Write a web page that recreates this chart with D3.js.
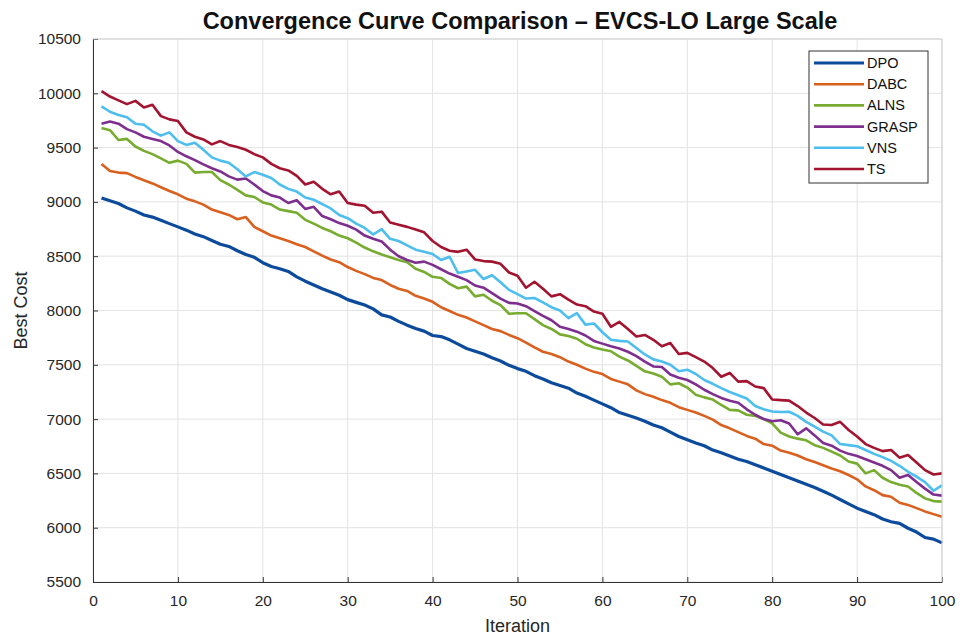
<!DOCTYPE html>
<html>
<head>
<meta charset="utf-8">
<script src="https://cdn.jsdelivr.net/npm/d3@7"></script>
<style>
    body { margin: 0; background: #fff; }
    svg { font-family: "Liberation Sans", Arial, sans-serif; }
</style>
</head>
<body>
<div class="conv-chart"></div>
<script>
// iteration index (x axis)
const iterations = Array.from({length: 100}, (_, i) => i + 1);

const xTicks = [0, 10, 20, 30, 40, 50, 60, 70, 80, 90, 100];
const yTicks = [5500, 6000, 6500, 7000, 7500, 8000, 8500, 9000, 9500, 10000, 10500];

const seriesNames = ["DPO", "DABC", "ALNS", "GRASP", "VNS", "TS"];
const seriesColors = ["#0c4a9c", "#d9601f", "#77ac30", "#7e2f8e", "#4dbeee", "#a2142f"];

const dpo = [9035, 9010, 8985, 8945, 8915, 8880, 8860, 8830, 8800, 8770,
    8740, 8705, 8680, 8645, 8610, 8590, 8550, 8515, 8490, 8440,
    8405, 8385, 8360, 8310, 8270, 8235, 8200, 8170, 8140, 8100,
    8075, 8050, 8015, 7960, 7940, 7900, 7865, 7835, 7810, 7770,
    7760, 7730, 7690, 7650, 7625, 7600, 7565, 7535, 7495, 7465,
    7440, 7400, 7370, 7335, 7310, 7285, 7240, 7210, 7175, 7140,
    7105, 7060, 7035, 7010, 6980, 6945, 6920, 6880, 6840, 6810,
    6780, 6755, 6715, 6690, 6660, 6630, 6610, 6580, 6550, 6520,
    6490, 6460, 6430, 6400, 6370, 6335, 6300, 6260, 6220, 6180,
    6150, 6120, 6080, 6055, 6040, 5995, 5960, 5910, 5895, 5860];

const dabc = [9350, 9285, 9270, 9265, 9230, 9200, 9170, 9135, 9100, 9070,
    9030, 9005, 8975, 8930, 8905, 8880, 8840, 8860, 8770, 8730,
    8690, 8665, 8640, 8610, 8585, 8545, 8505, 8470, 8445, 8400,
    8365, 8335, 8300, 8280, 8235, 8200, 8180, 8135, 8110, 8080,
    8030, 7995, 7960, 7935, 7900, 7865, 7830, 7810, 7775, 7745,
    7705, 7660, 7620, 7600, 7570, 7530, 7500, 7465, 7435, 7415,
    7370, 7345, 7320, 7265, 7230, 7205, 7175, 7150, 7110, 7085,
    7060, 7030, 6995, 6945, 6915, 6880, 6845, 6820, 6770, 6755,
    6710, 6690, 6665, 6630, 6605, 6575, 6545, 6520, 6485, 6445,
    6380, 6345, 6300, 6285, 6230, 6210, 6180, 6150, 6125, 6100];

const alns = [9680, 9660, 9570, 9580, 9510, 9470, 9440, 9400, 9360, 9380,
    9350, 9270, 9275, 9275, 9200, 9160, 9110, 9060, 9045, 8995,
    8975, 8930, 8915, 8900, 8835, 8800, 8760, 8730, 8690, 8665,
    8625, 8580, 8545, 8515, 8490, 8465, 8445, 8385, 8355, 8310,
    8300, 8245, 8205, 8220, 8130, 8145, 8090, 8050, 7970, 7975,
    7975, 7920, 7865, 7830, 7780, 7765, 7740, 7690, 7660, 7640,
    7625, 7575, 7540, 7490, 7440, 7420, 7390, 7320, 7330, 7290,
    7225, 7200, 7180, 7130, 7085, 7080, 7040, 7030, 7000, 6960,
    6875, 6840, 6820, 6805, 6760, 6735, 6700, 6665, 6610, 6590,
    6500, 6530, 6460, 6420, 6395, 6380, 6320, 6270, 6245, 6240];

const grasp = [9720, 9740, 9720, 9670, 9640, 9600, 9580, 9560, 9520, 9460,
    9420, 9385, 9345, 9310, 9280, 9235, 9205, 9215, 9160, 9100,
    9060, 9040, 8990, 9015, 8935, 8955, 8870, 8840, 8805, 8780,
    8745, 8690, 8660, 8635, 8560, 8500, 8465, 8440, 8450, 8420,
    8380, 8340, 8310, 8280, 8230, 8210, 8160, 8110, 8070, 8065,
    8040, 7995, 7950, 7910, 7850, 7830, 7805, 7770, 7720, 7695,
    7670, 7650, 7620, 7580, 7530, 7485, 7480, 7410, 7380, 7360,
    7320, 7270, 7230, 7195, 7170, 7150, 7090, 7040, 7000, 6980,
    6990, 6960, 6860, 6915, 6850, 6780, 6755, 6710, 6680, 6660,
    6630, 6600, 6570, 6530, 6460, 6485, 6420, 6360, 6305, 6295];

const vns = [9880, 9830, 9800, 9780, 9720, 9710, 9650, 9610, 9640, 9560,
    9525, 9545, 9480, 9410, 9380, 9360, 9300, 9235, 9275, 9250,
    9220, 9160, 9120, 9095, 9040, 9020, 8980, 8940, 8880, 8850,
    8800, 8760, 8700, 8750, 8660, 8640, 8600, 8560, 8540, 8520,
    8465, 8495, 8345, 8360, 8375, 8290, 8325, 8260, 8190, 8150,
    8110, 8115, 8075, 8030, 8000, 7930, 7975, 7870, 7880, 7800,
    7730, 7720, 7715, 7655, 7595, 7550, 7530, 7500, 7440, 7455,
    7415, 7360, 7325, 7285, 7250, 7220, 7190, 7120, 7090, 7070,
    7065, 7068, 7030, 6975, 6930, 6885, 6850, 6770, 6760, 6750,
    6715, 6680, 6650, 6615, 6570, 6515, 6470, 6420, 6340, 6390];

const ts = [10020, 9970, 9935, 9900, 9930, 9870, 9895, 9790, 9760, 9745,
    9640, 9600, 9575, 9530, 9560, 9525, 9505, 9480, 9440, 9410,
    9350, 9310, 9290, 9240, 9160, 9185, 9120, 9070, 9095, 8990,
    8975, 8965, 8900, 8910, 8810, 8790, 8770, 8745, 8720, 8640,
    8585, 8550, 8540, 8560, 8470, 8455, 8450, 8430, 8350, 8320,
    8210, 8265, 8200, 8130, 8150, 8100, 8055, 8040, 7990, 7970,
    7850, 7895, 7830, 7760, 7775, 7730, 7670, 7700, 7600, 7610,
    7570, 7530, 7470, 7390, 7425, 7345, 7350, 7300, 7285, 7180,
    7175, 7170, 7120, 7060, 7010, 6950, 6945, 6975, 6900, 6840,
    6770, 6735, 6705, 6715, 6645, 6670, 6600, 6530, 6490, 6500];

const seriesValues = [dpo, dabc, alns, grasp, vns, ts];

function renderConvergenceChart() {
    let width = 967, height = 638,
        margin = {top: 39, right: 25, bottom: 56, left: 93},
        innerW = width - margin.left - margin.right,
        innerH = height - margin.top - margin.bottom;

    let svg = d3.select(".conv-chart").append("svg")
        .attr("width", width).attr("height", height);

    let g = svg.append("g")
        .attr("transform", "translate(" + margin.left + "," + margin.top + ")");

    let x = d3.scaleLinear().domain([0, 100]).range([0, innerW]);
    let y = d3.scaleLinear().domain([5500, 10500]).range([innerH, 0]);

    // grid
    g.append("g").selectAll("line").data(xTicks).enter().append("line")
        .attr("x1", d => x(d)).attr("x2", d => x(d))
        .attr("y1", 0).attr("y2", innerH)
        .attr("stroke", "#e3e3e3").attr("stroke-width", 1);
    g.append("g").selectAll("line").data(yTicks).enter().append("line")
        .attr("y1", d => y(d)).attr("y2", d => y(d))
        .attr("x1", 0).attr("x2", innerW)
        .attr("stroke", "#e3e3e3").attr("stroke-width", 1);

    // curves
    let line = d3.line()
        .x(function (d, i) { return x(iterations[i]); })
        .y(function (d) { return y(d); });

    g.append("g").selectAll("path")
        .data(seriesValues)
        .enter().append("path")
        .attr("d", d => line(d))
        .attr("fill", "none")
        .attr("stroke", (d, i) => seriesColors[i])
        .attr("stroke-width", (d, i) => i === 0 ? 3.2 : 2.6)
        .attr("stroke-linejoin", "round");

    // axes, MATLAB style ticks pointing inward
    let xAxis = g.append("g")
        .attr("transform", "translate(0," + innerH + ")")
        .call(d3.axisBottom(x).tickValues(xTicks).tickFormat(d3.format("d"))
            .tickSizeInner(-5).tickSizeOuter(0).tickPadding(13));
    let yAxis = g.append("g")
        .call(d3.axisLeft(y).tickValues(yTicks).tickFormat(d3.format("d"))
            .tickSizeInner(-5).tickSizeOuter(0).tickPadding(12));

    [xAxis, yAxis].forEach(function (ax) {
        ax.select(".domain").attr("stroke", "#333").attr("stroke-width", 1);
        ax.selectAll(".tick line").attr("stroke", "#333");
        ax.selectAll(".tick text")
            .attr("fill", "#262626")
            .style("font-size", "15.5px")
            .style("font-family", "'Liberation Sans', Arial, sans-serif");
    });

    // top and right box edges
    g.append("line").attr("x1", 0).attr("x2", innerW).attr("y1", 0).attr("y2", 0)
        .attr("stroke", "#cfcfcf");
    g.append("line").attr("x1", innerW).attr("x2", innerW).attr("y1", 0).attr("y2", innerH)
        .attr("stroke", "#cfcfcf");

    // labels
    svg.append("text")
        .attr("x", 520).attr("y", 29)
        .attr("text-anchor", "middle")
        .style("font-size", "23.5px").style("font-weight", "bold")
        .attr("fill", "#111")
        .text("Convergence Curve Comparison – EVCS-LO Large Scale");

    svg.append("text")
        .attr("x", margin.left + innerW / 2).attr("y", 632)
        .attr("text-anchor", "middle")
        .style("font-size", "18px").attr("fill", "#262626")
        .text("Iteration");

    svg.append("text")
        .attr("transform", "translate(27," + (margin.top + innerH / 2) + ") rotate(-90)")
        .attr("text-anchor", "middle")
        .style("font-size", "18px").attr("fill", "#262626")
        .text("Best Cost");

    // legend
    let legend = svg.append("g").attr("transform", "translate(809,51)");
    legend.append("rect")
        .attr("width", 119).attr("height", 132)
        .attr("fill", "#fff").attr("stroke", "#333").attr("stroke-width", 1);

    let rows = legend.selectAll(".legend-row")
        .data(seriesNames)
        .enter().append("g")
        .attr("class", "legend-row")
        .attr("transform", (d, i) => "translate(0," + (12 + i * 21.2) + ")");

    rows.append("line")
        .attr("x1", 5).attr("x2", 55)
        .attr("stroke", (d, i) => seriesColors[i])
        .attr("stroke-width", (d, i) => i === 0 ? 3.2 : 2.6);

    rows.append("text")
        .attr("x", 58).attr("y", 5)
        .style("font-size", "14.5px").attr("fill", "#111")
        .text(d => d);
}

renderConvergenceChart();
</script>
</body>
</html>
